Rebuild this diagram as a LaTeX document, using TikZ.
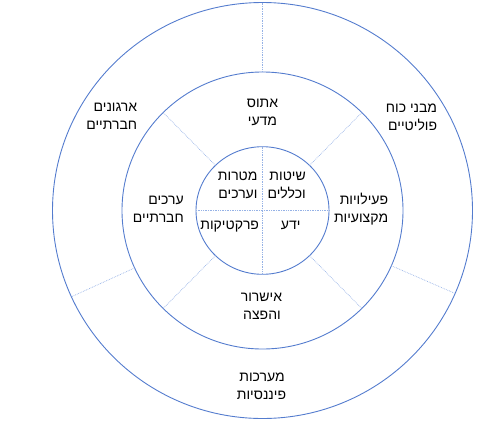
\documentclass[tikz,border=0pt]{standalone}
\usepackage{fontspec}
\TeXXeTstate=1
\newfontfamily\hebfont[Script=Hebrew]{Liberation Sans}
\usetikzlibrary{calc}
\definecolor{ringblue}{RGB}{84,124,206}
\definecolor{sepblue}{RGB}{150,178,230}
\tikzset{
  ring/.style={draw=ringblue, line width=0.9pt},
  sep/.style={draw=sepblue, line width=0.7pt, densely dotted},
  lbl/.style={font=\hebfont\fontsize{14}{18}\selectfont, inner sep=0pt, text=black},
  lblr/.style={lbl, anchor=base east},
  lblc/.style={lbl, anchor=base},
}
\begin{document}
\begin{tikzpicture}[x=1pt,y=-1pt]
\useasboundingbox (0,0) rectangle (503,439);
\coordinate (c) at (262.5,210.5);
% rings
\draw[ring] (c) ellipse [x radius=210, y radius=208];
\draw[ring] (c) ellipse [x radius=140.5, y radius=138.5];
\draw[ring] (c) ellipse [x radius=66.5, y radius=63.8];
% ring points
\coordinate (o270) at ($(c)+(270:210 and 208)$);
\coordinate (m270) at ($(c)+(270:140.5 and 138.5)$);
\coordinate (o156) at ($(c)+(155.5:210 and 208)$);
\coordinate (m156) at ($(c)+(155.5:140.5 and 138.5)$);
\coordinate (o24) at ($(c)+(23.5:210 and 208)$);
\coordinate (m24) at ($(c)+(23.5:140.5 and 138.5)$);
\foreach \a in {45,135,225,315}{
  \coordinate (m\a) at ($(c)+(\a:140.5 and 138.5)$);
  \coordinate (i\a) at ($(c)+(\a:66.5 and 63.8)$);
}
\coordinate (i0) at ($(c)+(0:66.5 and 63.8)$);
\coordinate (i90) at ($(c)+(90:66.5 and 63.8)$);
\coordinate (i180) at ($(c)+(180:66.5 and 63.8)$);
\coordinate (i270) at ($(c)+(270:66.5 and 63.8)$);
% separators
\draw[sep] (o270) -- (m270);
\draw[sep] (m156) -- (o156);
\draw[sep] (m24) -- (o24);
\draw[sep] (i45) -- (m45);
\draw[sep] (i135) -- (m135);
\draw[sep] (i225) -- (m225);
\draw[sep] (i315) -- (m315);
\draw[sep] (i270) -- (i90);
\draw[sep] (i180) -- (i0);
% outer ring labels
\node[lblc] (t1a) at (262.5,107.5) {\beginR אתוס\endR};
\node[lblc] (t1b) at (262.5,125.5) {\beginR מדעי\endR};
\node[lblr] (t2a) at (137.3,111.5) {\beginR ארגונים\endR};
\node[lblr] (t2b) at (137.3,129.5) {\beginR חברתיים\endR};
\node[lblr] (t3a) at (437.3,112.5) {\beginR מבני כוח\endR};
\node[lblr] (t3b) at (437.3,130.5) {\beginR פוליטיים\endR};
\node[lblc] (t4a) at (262,381.5) {\beginR מערכות\endR};
\node[lblc] (t4b) at (261.5,399.5) {\beginR פיננסיות\endR};
% middle ring labels
\node[lblr] (m1a) at (184,204) {\beginR ערכים\endR};
\node[lblr] (m1b) at (184,222) {\beginR חברתיים\endR};
\node[lblr] (m2a) at (388.3,204) {\beginR פעילויות\endR};
\node[lblr] (m2b) at (388.3,222) {\beginR מקצועיות\endR};
\node[lblc] (m3a) at (261.5,301.5) {\beginR אישרור\endR};
\node[lblc] (m3b) at (262,319.5) {\beginR והפצה\endR};
% inner labels
\node[lblr] (n1a) at (257.7,180) {\beginR מטרות\endR};
\node[lblr] (n1b) at (257.7,198) {\beginR וערכים\endR};
\node[lblr] (n2a) at (306,180) {\beginR שיטות\endR};
\node[lblr] (n2b) at (306,198) {\beginR וכללים\endR};
\node[lblc] (n3) at (229.7,229) {\beginR פרקטיקות\endR};
\node[lblc] (n4) at (290.7,229) {\beginR ידע\endR};
\end{tikzpicture}
\end{document}
